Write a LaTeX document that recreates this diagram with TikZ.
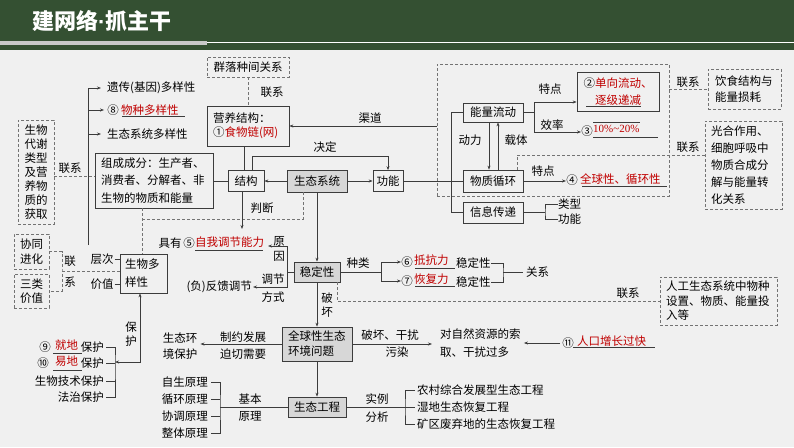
\documentclass[tikz,border=0pt]{standalone}
\usepackage{fontspec}
\setmainfont{Noto Sans CJK SC}
\newfontfamily\serifnum{Liberation Serif}
\newfontfamily\latinf{Liberation Sans}
\usetikzlibrary{arrows.meta,calc}
\definecolor{hdr}{RGB}{52,80,50}
\definecolor{bgc}{RGB}{240,240,240}
\definecolor{linec}{RGB}{60,60,60}
\definecolor{dashc}{RGB}{115,115,115}
\definecolor{redc}{RGB}{192,0,0}
\definecolor{boxg}{RGB}{215,215,215}
\definecolor{hline}{RGB}{200,200,200}
\newcommand\myred[1]{\textcolor{redc}{#1}}
\newcommand\msz{\fontsize{11.5}{14}\selectfont}
\begin{document}
\begin{tikzpicture}[x=1pt,y=-1pt,
  bx/.style={draw=linec,line width=0.7pt,inner sep=0pt,font=\msz,text=black},
  gbx/.style={bx,fill=boxg},
  dbx/.style={draw=dashc,dash pattern=on 3pt off 2pt,line width=0.8pt,inner sep=0pt,font=\msz},
  lbl/.style={inner sep=0pt,font=\msz},
  ln/.style={draw=linec,line width=0.7pt},
  dln/.style={draw=dashc,line width=0.8pt,dash pattern=on 3pt off 2pt},
  arr/.style={ln,-{Stealth[length=4pt,width=3pt]}},
  ular/.style={ln,line width=0.6pt}]
\useasboundingbox (0,0) rectangle (794,447);
\fill[bgc] (0,0) rectangle (794,447);
% header
\fill[hdr] (0,0) rectangle (794,50);
\fill[hline] (0,41) rectangle (207,45);
\draw[white,line width=0.8pt] (207,42.5) -- (794,42.5);
\node[anchor=west,text=white,inner sep=0pt,font=\fontsize{22}{26}\selectfont\bfseries] (title) at (32,21) {建网络{\latinf ·}抓主干};

% boxes
\node[dbx,minimum width=82,minimum height=20] (qunluo) at (248,67) {群落种间关系};
\node[bx,minimum width=82,minimum height=40,text width=70,align=left] (yingyang) at (248,126) {营养结构：\\①\myred{食物链(网)}};
\node[bx,minimum width=36,minimum height=21] (jiegou) at (246,181) {结构};
\node[gbx,minimum width=60,minimum height=22] (stxt) at (317,181) {生态系统};
\node[bx,minimum width=30,minimum height=21] (gongneng) at (388,181) {功能};
\node[dbx,minimum width=232,minimum height=132] (bigbox) at (553,130) {};
\node[bx,minimum width=60,minimum height=19] (nengliang) at (493,112.5) {能量流动};
\node[bx,minimum width=60,minimum height=22] (wuzhi) at (493,181) {物质循环};
\node[bx,minimum width=60,minimum height=21] (xinxi) at (493,212.5) {信息传递};
\node[bx,minimum width=82,minimum height=39,align=center,font=\fontsize{11.5}{17}\selectfont] (box2) at (618,91.5) {②\myred{单向流动、}\\\myred{逐级递减}};
\node[dbx,minimum width=73,minimum height=40,text width=59,align=left,font=\fontsize{11.5}{16}\selectfont] (yinshi) at (744.5,89) {饮食结构与\\能量损耗};
\node[dbx,minimum width=77,minimum height=88,text width=65,align=left,font=\fontsize{11.5}{17}\selectfont] (guanghe) at (743.5,165) {光合作用、\\细胞呼吸中\\物质合成分\\解与能量转\\化关系};
\node[bx,minimum width=118,minimum height=55,text width=106,align=left,font=\fontsize{11.5}{17.5}\selectfont] (zucheng) at (154,180.5) {组成成分：生产者、\\消费者、分解者、非\\生物的物质和能量};
\node[dbx,minimum width=36,minimum height=104,align=center,font=\fontsize{11.5}{14}\selectfont] (daixie) at (36,172) {生物\\代谢\\类型\\及营\\养物\\质的\\获取};
\node[bx,minimum width=47,minimum height=39,text width=37,align=left,font=\fontsize{11.5}{18}\selectfont] (dyx) at (143.5,273.5) {生物多\\样性};
\node[dbx,minimum width=35,minimum height=35,align=center,font=\fontsize{11.5}{15}\selectfont] (xietong) at (31.5,251.5) {协同\\进化};
\node[dbx,minimum width=35,minimum height=34,align=center,font=\fontsize{11.5}{14}\selectfont] (sanlei) at (31.5,291) {三类\\价值};
\node[gbx,minimum width=46,minimum height=20] (wending) at (317,272) {稳定性};
\node[dbx,minimum width=117,minimum height=48,text width=105,align=left,font=\fontsize{11.5}{14.5}\selectfont] (rengong) at (718.5,301) {人工生态系统中物种\\设置、物质、能量投\\入等};
\node[gbx,minimum width=70,minimum height=34,text width=58,align=left,font=\fontsize{11.5}{15}\selectfont] (quanqiu) at (317,344) {全球性生态\\环境问题};
\node[gbx,minimum width=58,minimum height=20] (stgc) at (317,407) {生态工程};

% top region
\draw[dln] (qunluo) -- (yingyang);
\node[lbl] (lx1) at (272,92) {联系};
\draw[arr] (yingyang.east -| bigbox.west) -- (yingyang.east);
\node[lbl] (qd) at (370,118) {渠道};
\draw[ln] ([xshift=-4]yingyang.south) -- ([xshift=-4]yingyang.south |- jiegou.north);
\draw[arr] ([xshift=6]jiegou.north) -- ++(0,-14) -| (gongneng.north);
\node[lbl] (jd) at (325,147) {决定};
\draw[arr] (stxt) -- (jiegou);
\draw[arr] (stxt) -- (gongneng);
\draw[ln] (zucheng.east |- jiegou.west) -- (jiegou.west);

% function bus
\coordinate (bus) at (451,181);
\draw[ln] (gongneng.east) -- (wuzhi.west);
\draw[ln] (nengliang.west) -| (bus |- xinxi.west) -- (xinxi.west);
\draw[arr] ([xshift=-4]nengliang.south) -- ([xshift=-4]wuzhi.north);
\draw[arr] ([xshift=5]wuzhi.north) -- ([xshift=5]nengliang.south);
\node[lbl] (dl) at (470,140) {动力};
\node[lbl] (zt) at (516,140) {载体};

% energy flow
\coordinate (nb) at (534,112.5);
\coordinate (nbt) at (534,102);
\coordinate (nbb) at (534,132);
\draw[ln] (nengliang.east) -- (nb);
\draw[ln] (nbt) -- (nbb);
\draw[arr] (nbt) -- (nbt -| box2.west);
\node[lbl] (td1) at (550,89) {特点};
\node[lbl] (xl) at (552,125) {效率};
\node[lbl] (c3) at (587,131) {③};
\draw[arr] (nbb) -- (nbb -| c3.west);
\node[lbl,anchor=west,font=\serifnum\fontsize{11}{13}\selectfont,text=redc] (pct) at (593,129) {10\%\textasciitilde 20\%};
\draw[ular] (593,122) -- (640,122);
\draw[ular] (593,137) -- (658,137);
\draw[ular] (586,106) -- (641,106);
\draw[dln] (yinshi.west -| bigbox.east) -- (yinshi.west);
\node[lbl] (lx2) at (688,82) {联系};

% matter cycle
\node[lbl] (td2) at (543,171) {特点};
\node[lbl] (c4) at (572,180) {④};
\draw[arr] (wuzhi.east) -- (wuzhi.east -| c4.west);
\node[lbl,anchor=west] (qqx) at (580,179) {\myred{全球性、循环性}};
\draw[ular] (582,186) -- (667,186);
\draw[dln] ([xshift=24]wuzhi.north) |- ([yshift=10]guanghe.west);
\node[lbl] (lx3) at (688,147) {联系};

% information
\coordinate (xb) at (545,212.5);
\draw[ln] (xinxi.east) -- (xb);
\node[lbl,anchor=west] (lx) at (558,204) {类型};
\node[lbl,anchor=west] (gn2) at (558,219) {功能};
\draw[ln] (lx.west) -| (xb) |- (gn2.west);

% diversity bracket
\node[lbl,anchor=west] (yc) at (107,88) {遗传(基因)多样性};
\node[lbl] (c8) at (113,110) {⑧};
\node[lbl,anchor=west] (wz) at (121,110) {\myred{物种多样性}};
\draw[ular] (122,116.5) -- (185,116.5);
\node[lbl,anchor=west] (stdy) at (107,134) {生态系统多样性};
\coordinate (lb) at (88,245);
\draw[arr] (lb) |- ([xshift=-6]yc.west);
\draw[arr] (lb |- c8.west) -- ([xshift=-3]c8.west);
\draw[arr] (lb |- stdy.west) -- ([xshift=-6]stdy.west);
\node[lbl] (cengci) at (102,259) {层次};
\draw[ln] ([xshift=1]cengci.east) -- (cengci.east -| dyx.west);
\node[lbl] (jiazhi) at (102,284) {价值};
\draw[ln] ([xshift=1]jiazhi.east) -- (jiazhi.east -| dyx.west);
\coordinate (lxb) at (62,271);
\draw[dln] (xietong.east) -| (lxb) |- (sanlei.east);
\draw[dln] (lxb) -- (lxb -| dyx.west);
\node[lbl] (lian) at (70,261) {联};
\node[lbl] (xi) at (70,282) {系};
\coordinate (dz) at (60,176);
\draw[dln] (dz -| daixie.east) -- (dz -| zucheng.west);
\node[lbl] (lx4) at (70,168) {联系};
\coordinate (dj) at (142,219);
\draw[dln] (dj |- zucheng.south) -- (dj |- dyx.north);
\draw[dln] (dj) -| ([xshift=-14]stxt.south);

% judgement / stability
\coordinate (zw) at (242,229);
\draw[arr] (jiegou.south -| zw) -- (zw);
\node[lbl] (pd) at (262,208) {判断};
\node[lbl] (juyou) at (170,243) {具有};
\node[lbl] (c5) at (189,243) {⑤};
\node[lbl,anchor=west] (zwtj) at (195,242) {\myred{自我调节能力}};
\draw[ular] (195,250) -- (263,250);
\coordinate (wb) at (287,272);
\coordinate (wt) at (268,246);
\coordinate (wbo) at (253,287);
\draw[ln] (wending.west) -- (wb);
\draw[arr] (wb) |- (wt);
\draw[arr] (wb) |- (wbo);
\node[lbl] (yuan) at (279,241) {原};
\node[lbl] (yin) at (279,256) {因};
\node[lbl] (tj) at (273,279) {调节};
\node[lbl] (fs) at (273,297) {方式};
\node[lbl,anchor=east] (fk) at (252,287) {(负)反馈调节};
\draw[arr] (stxt) -- (wending);

% kinds of stability
\coordinate (zl) at (381,272);
\draw[ln] (wending.east) -- (zl);
\node[lbl] (zlt) at (358,263) {种类};
\node[lbl] (c6) at (407,262) {⑥};
\node[lbl] (c7) at (407,281) {⑦};
\draw[arr] (zl) |- (c6.west);
\draw[arr] (zl) |- (c7.west);
\node[lbl,anchor=west] (dkl) at (414,260.5) {\myred{抵抗力}};
\draw[ular] (415,268) -- (455,268);
\node[lbl,anchor=west] (wd6) at (456,263) {稳定性};
\node[lbl,anchor=west] (hfl) at (414,279.5) {\myred{恢复力}};
\draw[ular] (415,286) -- (455,286);
\node[lbl,anchor=west] (wd7) at (456,282) {稳定性};
\coordinate (gx) at (503,272);
\draw[ln] (wd6.east) -| (gx) |- (wd7.east);
\node[lbl,anchor=west] (guanxi) at (526,272) {关系};
\draw[ln] (gx) -- ([xshift=-3]guanxi.west);
\draw[dln] ([xshift=20]wending.south) |- (rengong.west);
\node[lbl] (lx5) at (628,293) {联系};
\draw[arr] (wending) -- (quanqiu);
\node[lbl] (po) at (327,298) {破};
\node[lbl] (huai) at (327,312) {坏};

% global problems
\node[lbl,anchor=west] (zr1) at (440,334) {对自然资源的索};
\node[lbl,anchor=west] (zr2) at (440,352) {取、干扰过多};
\draw[arr] (quanqiu.east) -- ([xshift=-8]quanqiu.east -| zr1.west);
\node[lbl] (phgr) at (390,335) {破坏、干扰};
\node[lbl] (wr) at (397,352) {污染};
\node[lbl] (c11) at (568,343) {⑪};
\draw[arr] ([xshift=-2]c11.west) -- ([xshift=3]c11.west -| zr1.east);
\node[lbl,anchor=west] (rk) at (577,341) {\myred{人口增长过快}};
\draw[ular] (573,347.5) -- (655,347.5);
\node[lbl] (sthj1) at (180,338) {生态环};
\node[lbl] (sthj2) at (180,354) {境保护};
\draw[arr] (quanqiu.west) -- ([xshift=3]quanqiu.west -| sthj1.east);
\node[lbl] (zyfz) at (243,337) {制约发展};
\node[lbl] (pqxy) at (243,354) {迫切需要};
\draw[arr] (quanqiu) -- (stgc);

% protection
\node[lbl] (bao) at (131,327) {保};
\node[lbl] (hu) at (131,341) {护};
\node[lbl] (c9) at (45,347) {⑨};
\node[lbl,anchor=west] (jd9) at (55,345) {\myred{就地}};
\node[lbl,anchor=east] (bh1) at (104,347) {保护};
\draw[ular] (53,353) -- (82,353);
\node[lbl] (c10) at (43,363) {⑩};
\node[lbl,anchor=west] (yd10) at (55,361) {\myred{易地}};
\node[lbl,anchor=east] (bh2) at (104,363) {保护};
\draw[ular] (53,370) -- (82,370);
\node[lbl,anchor=east] (bh3) at (104,381) {生物技术保护};
\node[lbl,anchor=east] (bh4) at (104,397) {法治保护};
\coordinate (bh) at (115,362);
\draw[ln] ([xshift=2]bh1.east) -| (bh) |- ([xshift=2]bh4.east);
\draw[ln] ([xshift=2]bh2.east) -- (bh2.east -| bh);
\draw[ln] ([xshift=2]bh3.east) -- (bh3.east -| bh);
\draw[ln,{Stealth[length=4pt,width=3pt]}-{Stealth[length=4pt,width=3pt]}] (bh) -| ([xshift=-3.5]dyx.south);

% engineering
\node[lbl,anchor=east] (zs) at (208,382) {自生原理};
\node[lbl,anchor=east] (xh) at (208,399) {循环原理};
\node[lbl,anchor=east] (xt) at (208,416) {协调原理};
\node[lbl,anchor=east] (zt2) at (208,433) {整体原理};
\coordinate (yl) at (220,407);
\draw[ln] ([xshift=3]zs.east) -| (yl) |- ([xshift=3]zt2.east);
\draw[ln] ([xshift=3]xh.east) -- (xh.east -| yl);
\draw[ln] ([xshift=3]xt.east) -- (xt.east -| yl);
\draw[ln] (yl) -- (stgc.west);
\node[lbl] (jb) at (250,399) {基本};
\node[lbl] (yl2) at (250,416) {原理};
\coordinate (sl) at (405,407);
\draw[ln] (stgc.east) -- (sl);
\node[lbl,anchor=west] (nc) at (417,390) {农村综合发展型生态工程};
\node[lbl,anchor=west] (sd) at (417,407) {湿地生态恢复工程};
\node[lbl,anchor=west] (kq) at (417,424) {矿区废弃地的生态恢复工程};
\draw[ln] ([xshift=-2]nc.west) -| (sl) |- ([xshift=-2]kq.west);
\draw[ln] (sl) -- ([xshift=-2]sd.west);
\node[lbl] (sl1) at (377,399) {实例};
\node[lbl] (fx) at (377,417) {分析};
\end{tikzpicture}
\end{document}
